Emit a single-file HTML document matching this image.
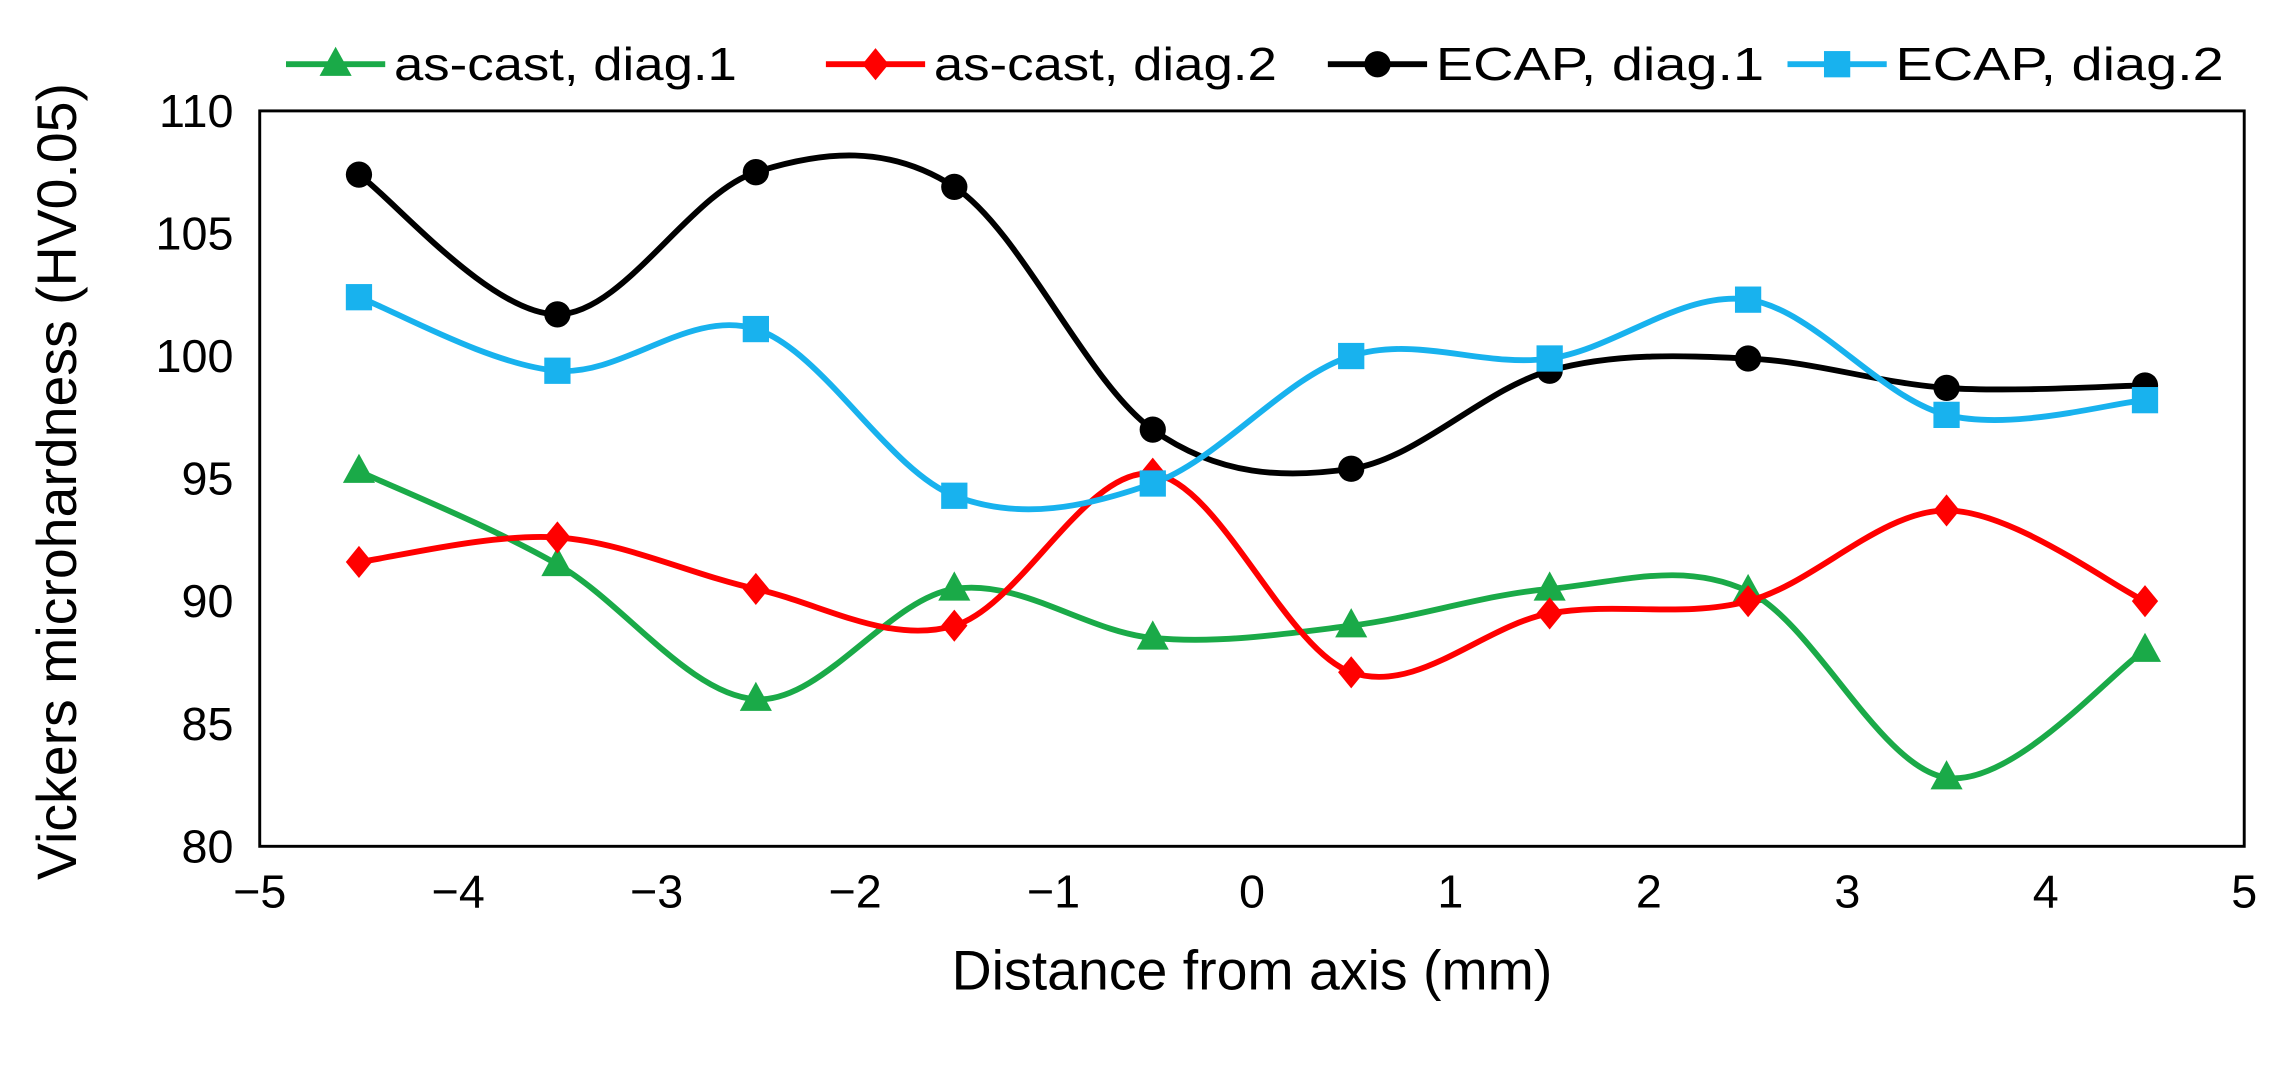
<!DOCTYPE html>
<html><head><meta charset="utf-8"><style>
body{margin:0;background:#fff}
svg{display:block;font-family:"Liberation Sans",sans-serif}
</style></head><body>
<svg id="chart" width="2288" height="1070" viewBox="0 0 1568 733.3" preserveAspectRatio="none">
<rect x="178" y="76" width="1360" height="504" fill="#fff" stroke="#000" stroke-width="2"/>
<g id="yticks"></g>
<g id="xticks"></g>
<g id="series"></g>
<g id="legend"></g>
<text x="858" y="678" font-size="38" text-anchor="middle">Distance from axis (mm)</text>
<text transform="translate(52,330) rotate(-90)" font-size="38" text-anchor="middle">Vickers microhardness (HV0.05)</text>
</svg>
<script>
const xValues=[-4.5,-3.5,-2.5,-1.5,-0.5,0.5,1.5,2.5,3.5,4.5];
const asCast1=[95.3,91.5,86.0,90.5,88.5,89.0,90.5,90.4,82.8,88.0];
const asCast2=[91.6,92.6,90.5,89.0,95.2,87.1,89.5,90.0,93.7,90.0];
const ecap1=[107.4,101.7,107.5,106.9,97.0,95.4,99.4,99.9,98.7,98.8];
const ecap2=[102.4,99.4,101.1,94.3,94.8,100.0,99.9,102.3,97.6,98.2];
const yTicks=[80,85,90,95,100,105,110];
const xTicks=[-5,-4,-3,-2,-1,0,1,2,3,4,5];
const xLabels=["\u22125","\u22124","\u22123","\u22122","\u22121","0","1","2","3","4","5"];
const seriesNames=["as-cast, diag.1","as-cast, diag.2","ECAP, diag.1","ECAP, diag.2"];

const NS="http://www.w3.org/2000/svg";
const X=v=>178+(v+5)*136;
const Y=v=>580-(v-80)*(504/30);
function mk(tag,attrs,parent){const e=document.createElementNS(NS,tag);for(const k in attrs)e.setAttribute(k,attrs[k]);parent.appendChild(e);return e;}
const yg=document.getElementById('yticks'),xg=document.getElementById('xticks'),sg=document.getElementById('series'),lg=document.getElementById('legend');
yTicks.forEach(t=>{const e=mk('text',{x:160,y:Y(t)+11,'font-size':32,'text-anchor':'end'},yg);e.textContent=t;

});
xTicks.forEach((t,i)=>{const e=mk('text',{x:X(t),y:622,'font-size':32,'text-anchor':'middle'},xg);e.textContent=xLabels[i];

});
function smooth(pts){let d=`M${pts[0][0]},${pts[0][1]}`;const t=1/6;
for(let i=0;i<pts.length-1;i++){const p0=pts[i-1]||pts[i],p1=pts[i],p2=pts[i+1],p3=pts[i+2]||p2;
d+=` C${p1[0]+(p2[0]-p0[0])*t},${p1[1]+(p2[1]-p0[1])*t} ${p2[0]-(p3[0]-p1[0])*t},${p2[1]-(p3[1]-p1[1])*t} ${p2[0]},${p2[1]}`;}return d;}
function marker(type,x,y,c,parent){
if(type==='tri')return mk('polygon',{points:`${x},${y-12} ${x-11},${y+8} ${x+11},${y+8}`,fill:c},parent);
if(type==='dia')return mk('polygon',{points:`${x},${y-11} ${x+9},${y} ${x},${y+11} ${x-9},${y}`,fill:c},parent);
if(type==='circ')return mk('circle',{cx:x,cy:y,r:9,fill:c},parent);
return mk('rect',{x:x-9,y:y-9,width:18,height:18,fill:c},parent);}
const defs=[[asCast1,'#1aaa48','tri','as-cast-diag1'],[asCast2,'#ff0000','dia','as-cast-diag2'],[ecap1,'#000000','circ','ecap-diag1'],[ecap2,'#18b2ee','sq','ecap-diag2']];
defs.forEach(([vals,c,m,name])=>{const g=mk('g',{},sg);


const pts=vals.map((v,i)=>[X(xValues[i]),Y(v)]);
mk('path',{d:smooth(pts),fill:'none',stroke:c,'stroke-width':4},g);
pts.forEach(p=>{const e=marker(m,p[0],p[1],c,g);

});});
const legX=[[196,270,235],[566,640,235],[910,984,225],[1225,1299,225]];
defs.forEach(([v,c,m,name],i)=>{const g=mk('g',{},lg);


const [lx,tx,tw]=legX[i];
mk('line',{x1:lx,y1:44,x2:lx+68,y2:44,stroke:c,'stroke-width':4},g);
marker(m,lx+34,44,c,g);
const t=mk('text',{x:tx,y:55,'font-size':32,textLength:tw,lengthAdjust:'spacingAndGlyphs'},g);t.textContent=seriesNames[i];});
</script>
</body></html>
